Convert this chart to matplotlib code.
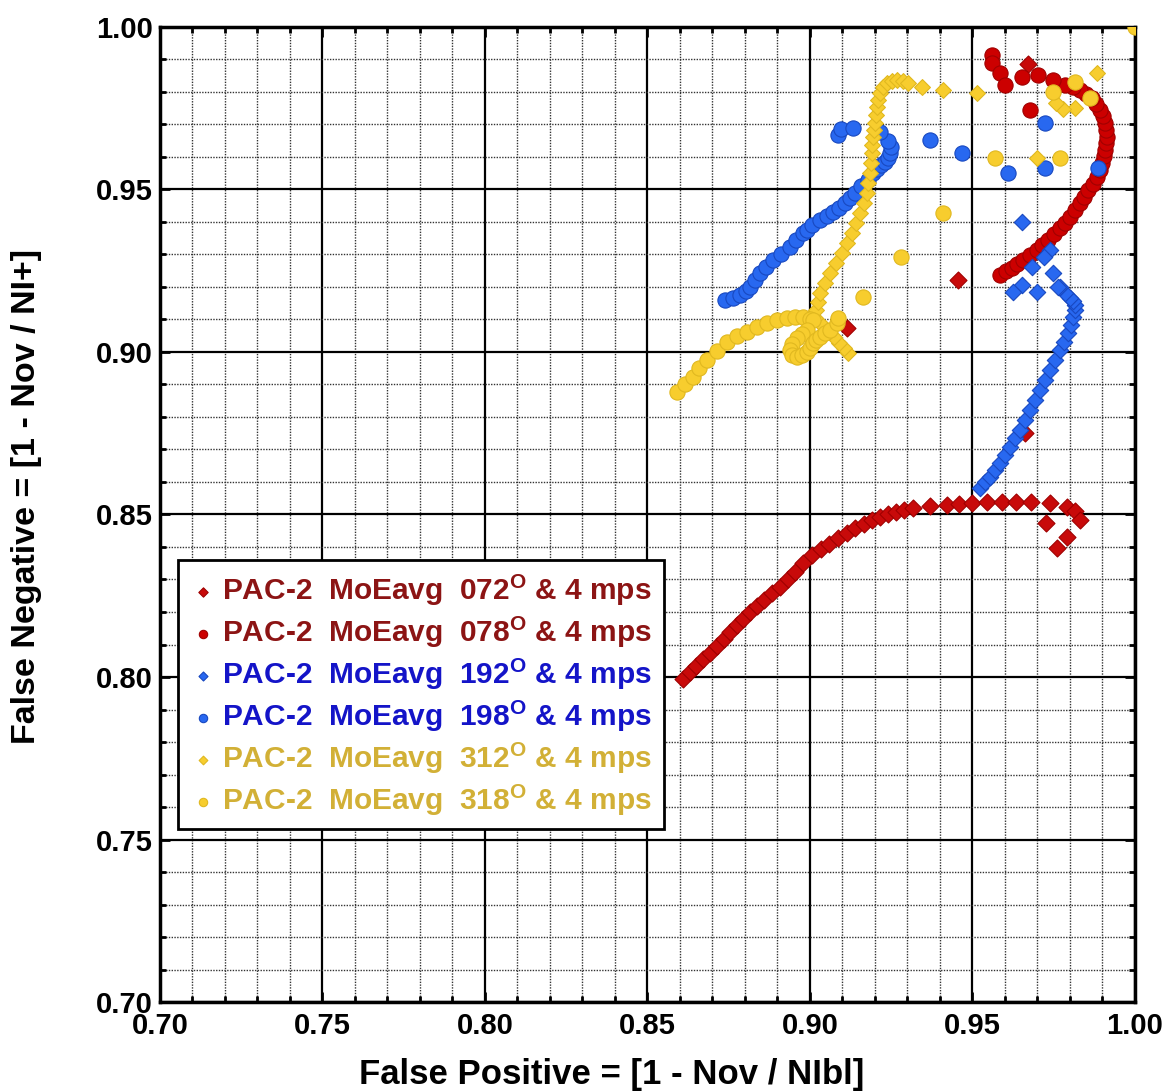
import numpy as np
import matplotlib
matplotlib.use("Agg")
import matplotlib.pyplot as plt
from matplotlib.ticker import MultipleLocator, FormatStrFormatter

plt.rcParams['font.family'] = ['Liberation Sans', 'DejaVu Sans']
plt.rcParams['font.weight'] = 'bold'
plt.rcParams['mathtext.fontset'] = 'custom'
plt.rcParams['mathtext.rm'] = 'Liberation Sans:bold'
plt.rcParams['mathtext.bf'] = 'Liberation Sans:bold'

# PAC-2 072 deg (diamonds)
fp_072 = [0.861, 0.863, 0.865, 0.867, 0.8692, 0.8714, 0.8735, 0.8755, 0.8775, 0.8795,
          0.8815, 0.8838, 0.886, 0.8884, 0.8908, 0.8932, 0.8955, 0.898, 0.9006, 0.9033,
          0.906, 0.9087, 0.9114, 0.914, 0.9165, 0.919, 0.9215, 0.924, 0.9265, 0.929,
          0.9317, 0.937, 0.9422, 0.946, 0.950, 0.9545, 0.959, 0.9635, 0.968, 0.9738,
          0.9791, 0.9815, 0.9831, 0.9726, 0.976, 0.979,
          0.967, 0.9455, 0.9114, 0.9662]
fn_072 = [0.7994, 0.8014, 0.8035, 0.8054, 0.8074, 0.8096, 0.8117, 0.8139, 0.816, 0.818,
          0.820, 0.8219, 0.8238, 0.8257, 0.8277, 0.83, 0.8323, 0.835, 0.8375, 0.8393,
          0.841, 0.8427, 0.8443, 0.8457, 0.847, 0.8482, 0.8492, 0.85, 0.8508, 0.8514,
          0.852, 0.8526, 0.8529, 0.8532, 0.8535, 0.8538, 0.8538, 0.8538, 0.8538, 0.8535,
          0.8523, 0.851, 0.8483, 0.8474, 0.8397, 0.843,
          0.9886, 0.9222, 0.9074, 0.8751]

# PAC-2 078 deg (circles)
fp_078 = [0.9585, 0.9603, 0.9622, 0.9638, 0.9655, 0.9677, 0.9698, 0.9715, 0.9732, 0.975,
          0.9769, 0.9785, 0.98, 0.9816, 0.9831, 0.9843, 0.9855, 0.987, 0.9883, 0.9891,
          0.9898, 0.9904, 0.9908, 0.9912, 0.9914, 0.9912, 0.9908, 0.9901, 0.9892, 0.988,
          0.9868, 0.985, 0.9831, 0.981, 0.9785,
          0.956, 0.956, 0.9585, 0.960, 0.9652, 0.9702, 0.9748, 0.9677]
fn_078 = [0.9237, 0.9248, 0.9258, 0.927, 0.9283, 0.9298, 0.9314, 0.933, 0.9345, 0.9364,
          0.9382, 0.9398, 0.9415, 0.9436, 0.9458, 0.9478, 0.9498, 0.9518, 0.9538, 0.956,
          0.9582, 0.9602, 0.9622, 0.9642, 0.9662, 0.9684, 0.9705, 0.9725, 0.9745, 0.9764,
          0.9782, 0.9795, 0.9806, 0.9816, 0.9822,
          0.9914, 0.9889, 0.9858, 0.9822, 0.9846, 0.9852, 0.9837, 0.9745]

# PAC-2 192 deg (diamonds)
fp_192 = [0.9523, 0.9538, 0.9554, 0.957, 0.9585, 0.96, 0.9615, 0.963, 0.9646, 0.9662,
          0.9677, 0.9692, 0.9708, 0.9723, 0.9738, 0.9754, 0.9769, 0.9782, 0.9794, 0.9803,
          0.981, 0.9815, 0.9815, 0.9808, 0.980, 0.9785, 0.9769,
          0.9652, 0.9738, 0.972, 0.9683, 0.9748, 0.9652, 0.9625, 0.9698, 0.9763]
fn_192 = [0.8582, 0.860, 0.8615, 0.8636, 0.8658, 0.8683, 0.8708, 0.8734, 0.876, 0.879,
          0.8822, 0.8852, 0.8883, 0.8914, 0.8945, 0.8975, 0.9006, 0.9032, 0.9058, 0.9083,
          0.9108, 0.9128, 0.9145, 0.9157, 0.9166, 0.918, 0.920,
          0.940, 0.9314, 0.9292, 0.9262, 0.9243, 0.9206, 0.9185, 0.9185, 0.920]

# PAC-2 198 deg (circles)
fp_198 = [0.8738, 0.8762, 0.8785, 0.8802, 0.8815, 0.883, 0.8846, 0.8866, 0.8886, 0.8912,
          0.8938, 0.8958, 0.8978, 0.899, 0.9006, 0.9031, 0.9051, 0.9071, 0.909, 0.9108,
          0.9124, 0.9138, 0.9158, 0.9178, 0.9194, 0.9206, 0.9218, 0.923, 0.924, 0.9246,
          0.9248, 0.924, 0.9215,
          0.9086, 0.9094, 0.9132, 0.9369, 0.9468, 0.9609, 0.9723, 0.9723, 0.9886]
fn_198 = [0.916, 0.9166, 0.9175, 0.9188, 0.920, 0.922, 0.9243, 0.9263, 0.9283, 0.9303,
          0.9323, 0.9345, 0.9366, 0.9375, 0.9392, 0.9406, 0.9418, 0.943, 0.9444, 0.9458,
          0.9474, 0.9489, 0.951, 0.953, 0.955, 0.9562, 0.9575, 0.9586, 0.9597, 0.9612,
          0.9631, 0.9648, 0.9677,
          0.9668, 0.9685, 0.969, 0.9652, 0.9612, 0.955, 0.9705, 0.9566, 0.9566]

# PAC-2 312 deg (diamonds)
fp_312 = [0.9117, 0.9105, 0.909, 0.9075, 0.906, 0.9045, 0.903, 0.9015, 0.902, 0.9025,
          0.9031, 0.9046, 0.9062, 0.908, 0.9098, 0.9114, 0.9129, 0.9142, 0.9154, 0.9165,
          0.9175, 0.918, 0.9185, 0.9188, 0.919, 0.9192, 0.9194, 0.9197, 0.920, 0.9203,
          0.9206, 0.921, 0.9215, 0.9225, 0.9237, 0.9252, 0.9268, 0.9285, 0.9302, 0.9345,
          0.9409, 0.9514,
          0.9883, 0.9815, 0.9778, 0.9757, 0.970]
fn_312 = [0.8997, 0.9012, 0.9028, 0.9045, 0.906, 0.9075, 0.909, 0.9105, 0.913, 0.9155,
          0.9182, 0.9212, 0.9243, 0.9274, 0.9305, 0.9335, 0.9366, 0.9397, 0.9428, 0.9458,
          0.9489, 0.952, 0.955, 0.958, 0.9612, 0.9637, 0.9662, 0.9684, 0.9705, 0.973,
          0.9754, 0.9776, 0.9797, 0.9815, 0.9828, 0.9835, 0.9837, 0.9833, 0.9828, 0.9815,
          0.9806, 0.9797,
          0.9858, 0.975, 0.9748, 0.9766, 0.9597]

# PAC-2 318 deg (circles)
fp_318 = [0.8591, 0.8615, 0.864, 0.866, 0.8683, 0.8713, 0.8745, 0.8775, 0.8806, 0.8837,
          0.8868, 0.890, 0.8929, 0.8955, 0.8978, 0.900, 0.9009, 0.8991, 0.8975, 0.896,
          0.8945, 0.8938, 0.8945, 0.896, 0.8975, 0.8991, 0.900, 0.9009, 0.902, 0.9031,
          0.9046, 0.9062, 0.9083, 0.9086,
          0.9163, 0.928, 0.941, 0.957, 0.9769, 0.9748, 0.9815, 0.9862, 1.0]
fn_318 = [0.8877, 0.890, 0.8923, 0.895, 0.8975, 0.9003, 0.9031, 0.9048, 0.9062, 0.9077,
          0.9089, 0.9098, 0.9105, 0.9108, 0.9108, 0.9102, 0.9098, 0.9068, 0.9055, 0.9043,
          0.9025, 0.9006, 0.899, 0.8985, 0.899, 0.900, 0.9012, 0.9028, 0.9037, 0.9046,
          0.9057, 0.9068, 0.9089, 0.9105,
          0.9169, 0.9292, 0.9428, 0.9597, 0.9597, 0.980, 0.9831, 0.9782, 1.0]

labels = ["PAC-2  MoEavg  072$^{\\rm O}$ & 4 mps",
          "PAC-2  MoEavg  078$^{\\rm O}$ & 4 mps",
          "PAC-2  MoEavg  192$^{\\rm O}$ & 4 mps",
          "PAC-2  MoEavg  198$^{\\rm O}$ & 4 mps",
          "PAC-2  MoEavg  312$^{\\rm O}$ & 4 mps",
          "PAC-2  MoEavg  318$^{\\rm O}$ & 4 mps"]
marker_colors = ['#c80a0a', '#cc0000', '#2868f0', '#2868f0', '#f7cd2e', '#f7cd2e']
edge_colors = ['#a00000', '#a00000', '#1848c0', '#1848c0', '#e0b820', '#e0b820']
text_colors = ['#8c1414', '#8c1414', '#1414c8', '#1414c8', '#d2b036', '#d2b036']
markers = ['D', 'o', 'D', 'o', 'D', 'o']
sizes = [75, 120, 70, 120, 65, 120]

fig = plt.figure(figsize=(11.72, 10.92), dpi=100)
ax = fig.add_axes([0.1365, 0.0824, 0.8319, 0.8929])

series = [(fp_072, fn_072), (fp_078, fn_078), (fp_192, fn_192),
          (fp_198, fn_198), (fp_312, fn_312), (fp_318, fn_318)]
for i, (xv, yv) in enumerate(series):
    ax.scatter(xv, yv, s=sizes[i], marker=markers[i], c=marker_colors[i],
               edgecolors=edge_colors[i], linewidths=0.8, label=labels[i], zorder=3)

ax.set_xlim(0.70, 1.00)
ax.set_ylim(0.70, 1.00)
ax.xaxis.set_major_locator(MultipleLocator(0.05))
ax.yaxis.set_major_locator(MultipleLocator(0.05))
ax.xaxis.set_minor_locator(MultipleLocator(0.01))
ax.yaxis.set_minor_locator(MultipleLocator(0.01))
ax.grid(which='major', color='black', linewidth=1.6, zorder=1)
ax.grid(which='minor', color='#333333', linewidth=1.0, linestyle=(0, (1, 1)), zorder=1)
ax.set_axisbelow(True)
ax.tick_params(which='both', direction='in', top=True, right=True, width=2)
ax.tick_params(which='major', length=7, labelsize=21)
ax.tick_params(axis='x', which='major', pad=7)
ax.tick_params(axis='y', which='major', pad=5)
ax.tick_params(which='minor', length=4)
for sp in ax.spines.values():
    sp.set_linewidth(2.5)
ax.xaxis.set_major_formatter(FormatStrFormatter('%.2f'))
ax.yaxis.set_major_formatter(FormatStrFormatter('%.2f'))

ax.set_xlabel("False Positive = [1 - Nov / NIbl]", fontsize=25, fontweight='bold')
ax.set_ylabel("False Negative = [1 - Nov / NI+]", fontsize=24.5, fontweight='bold')
ax.xaxis.set_label_coords(0.4636, -0.057)
ax.yaxis.set_label_coords(-0.121, 0.518)

leg = ax.legend(loc='upper left', bbox_to_anchor=(0.018, 0.453), borderaxespad=0,
                fontsize=21.5, frameon=True, fancybox=False, framealpha=1,
                handletextpad=0.2, handlelength=0.9, labelspacing=0.2, borderpad=0.4,
                markerscale=0.55)
leg.get_frame().set_edgecolor('black')
leg.get_frame().set_linewidth(2)
for t, c in zip(leg.get_texts(), text_colors):
    t.set_color(c)
leg.set_zorder(5)

fig.savefig("out.png", dpi=100)
